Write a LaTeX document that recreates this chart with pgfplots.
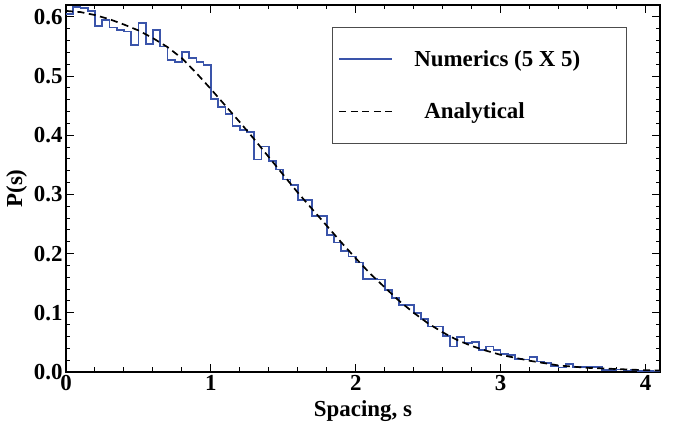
\documentclass[border=0pt]{standalone}
\usepackage{fontspec}
\setmainfont{Liberation Serif}
\usepackage{pgfplots}
\pgfplotsset{compat=1.18}
\definecolor{numblue}{RGB}{58,84,170}
\newcommand{\chartfont}{\bfseries\fontsize{23}{27}\selectfont}

\begin{document}
\begin{tikzpicture}
\begin{axis}[
  scale only axis, width=594bp, height=367bp,
  xmin=0, xmax=4.1, ymin=0, ymax=0.62,
  xtick={0,1,2,3,4}, minor x tick num=4,
  ytick={0,0.1,0.2,0.3,0.4,0.5,0.6}, minor y tick num=4,
  tick align=inside, major tick length=8bp, minor tick length=4.5bp,
  axis line style={line width=1.3bp},
  every tick/.style={black, line width=1bp},
  y tick label style={/pgf/number format/.cd, fixed, fixed zerofill, precision=1, /tikz/.cd},
  /pgf/number format/assume math mode=true,
  tick label style={font=\chartfont},
  label style={font=\chartfont},
  xlabel={Spacing, s}, ylabel={P(s)},
  xlabel style={yshift=-3bp},
  legend style={at={(0.448,0.94)}, anchor=north west, draw=black!70, line width=0.9bp,
    font=\chartfont, inner xsep=6bp, inner ysep=21bp, row sep=31bp},
  legend cell align=left,
  legend image code/.code={\draw[#1] (0bp,0bp) -- (53bp,0bp); \path (72bp,0bp);},
]
% histogram, bins of width 0.05 (left edge, height)
\addplot[numblue, line width=1.7bp, const plot mark left] coordinates {
(0.00,0.605) (0.05,0.617) (0.10,0.615) (0.15,0.610) (0.20,0.584)
(0.25,0.595) (0.30,0.582) (0.35,0.578) (0.40,0.575) (0.45,0.553)
(0.50,0.589) (0.55,0.554) (0.60,0.578) (0.65,0.550) (0.70,0.527)
(0.75,0.524) (0.80,0.541) (0.85,0.530) (0.90,0.524) (0.95,0.519)
(1.00,0.461) (1.05,0.448) (1.10,0.436) (1.15,0.416) (1.20,0.409)
(1.25,0.405) (1.30,0.359) (1.35,0.381) (1.40,0.357) (1.45,0.342)
(1.50,0.325) (1.55,0.316) (1.60,0.290) (1.65,0.290) (1.70,0.263)
(1.75,0.264) (1.80,0.232) (1.85,0.219) (1.90,0.204) (1.95,0.195)
(2.00,0.185) (2.05,0.157) (2.10,0.157) (2.15,0.156) (2.20,0.138)
(2.25,0.125) (2.30,0.113) (2.35,0.113) (2.40,0.100) (2.45,0.089)
(2.50,0.077) (2.55,0.077) (2.60,0.061) (2.65,0.043) (2.70,0.059)
(2.75,0.049) (2.80,0.051) (2.85,0.037) (2.90,0.043) (2.95,0.037)
(3.00,0.030) (3.05,0.029) (3.10,0.022) (3.15,0.021) (3.20,0.025)
(3.25,0.0175) (3.30,0.015) (3.35,0.010) (3.40,0.0075) (3.45,0.013)
(3.50,0.009) (3.55,0.0085) (3.60,0.008) (3.65,0.008) (3.70,0.0035)
(3.75,0.0035) (3.80,0.004) (3.85,0.0025) (3.90,0.003) (3.95,0.002)
(4.00,0.0015) (4.05,0.001) (4.10,0.001)
};
\addlegendentry{Numerics (5 X 5)\hspace*{38bp}}
\addplot[black, line width=1.7bp, dash pattern=on 7bp off 4.5bp] coordinates {
(0.0,0.610) (0.1,0.608) (0.2,0.603) (0.3,0.596) (0.4,0.587) (0.5,0.577)
(0.6,0.564) (0.7,0.549) (0.8,0.530) (0.9,0.505) (1.0,0.478) (1.1,0.450)
(1.2,0.422) (1.3,0.393) (1.4,0.363) (1.5,0.333) (1.6,0.303) (1.7,0.275)
(1.8,0.247) (1.9,0.219) (2.0,0.192) (2.1,0.166) (2.2,0.143) (2.3,0.120)
(2.4,0.100) (2.5,0.082) (2.6,0.067) (2.7,0.054) (2.8,0.044) (2.9,0.036)
(3.0,0.029) (3.2,0.019) (3.4,0.011) (3.6,0.007) (3.8,0.005) (4.0,0.003)
(4.1,0.0025)
};
\addlegendentry{\hspace*{10bp}Analytical}
\end{axis}
\path ([xshift=-66bp,yshift=-58bp]current axis.south west) rectangle ([xshift=16bp,yshift=5bp]current axis.north east);
\end{tikzpicture}
\end{document}
